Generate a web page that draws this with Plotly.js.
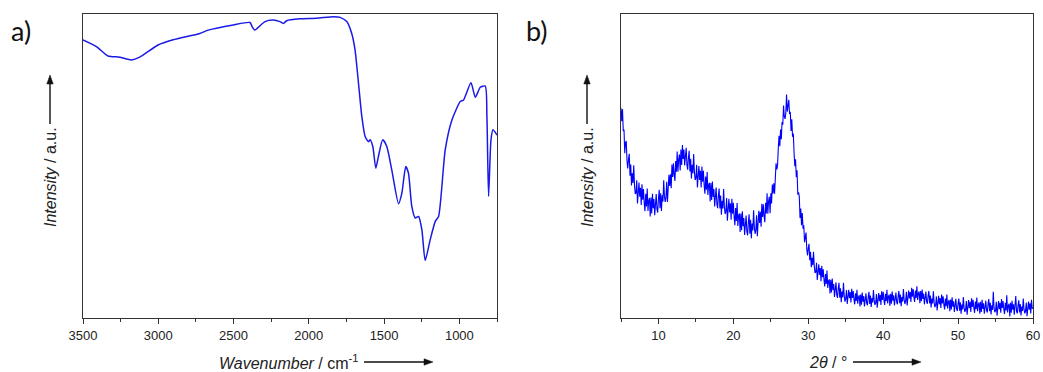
<!DOCTYPE html>
<html>
<head>
<meta charset="utf-8">
<script src="https://cdn.plot.ly/plotly-3.0.1.min.js"></script>
<style>html,body{margin:0;padding:0;background:#fff;}#chart{width:1043px;height:372px;}</style>
</head>
<body>
<div id="chart"></div>
<script>
// ---- FT-IR spectrum (panel a) ----
const irWavenumber = [3500,3411,3334,3256,3178,3123,3001,2901,2724,2668,2502,2391,2376,2358,2336,2291,2236,2192,2169,2147,2059,1948,1837,1792,1748,1715,1693,1670,1648,1626,1604,1593,1575,1555,1538,1509,1482,1449,1404,1382,1356,1338,1316,1293,1271,1249,1227,1194,1160,1138,1094,1049,994,972,923,894,861,828,817,806,790,777,750];
const irIntensity = [91.5,89.3,86.2,85.8,84.9,85.8,89.8,91.5,93.6,94.7,96.4,97.2,95.8,94.7,95.6,97.5,98.0,97.5,96.9,97.8,98.4,98.6,99.1,98.9,97.5,93.6,88.2,77.2,66.3,59.7,58.0,58.6,56.4,49.3,53.1,58.6,56.4,48.7,37.6,41.1,49.8,47.6,36.7,32.9,33.4,29.0,18.9,25.7,31.8,33.4,55.3,65.2,71.2,71.7,77.4,72.6,75.9,76.3,66.3,40.0,58.6,61.9,60.2];
const irTicks = [3500,3000,2500,2000,1500,1000];

// ---- PXRD pattern (panel b), 2theta from 5 to 60 in steps of 0.1 (one row per degree) ----
const xrdStart = 5;
const xrdStep = 0.1;
const xrdIntensity = [
69,64.7,68.7,61.5,62.0,54.2,57.6,58.2,51.7,49.2,
52.3,54.0,46.8,50.5,43.6,47.6,44.4,50.2,43.8,40.8,
41.1,45.3,37.7,43.2,44.6,39.9,42.8,37.2,44.0,38.9,
42.4,37.8,35.1,40.9,36.7,42.6,35.2,38.5,39.5,33.4,
39.6,34.4,40.9,36.1,39.1,33.8,38.7,40.8,35.7,34.7,
39.3,42.2,36.1,41.0,35.2,40.4,38.3,45.3,40.0,38.2,
39.6,44.8,38.2,44.7,47.1,43.4,47.3,42.7,50.5,46.4,
50.9,47.1,45.1,51.6,48.1,54.8,48.1,52.2,53.8,48.5,
55.4,50.3,56.9,52.3,55.4,50.2,54.5,56.0,50.4,48.8,
52.8,55.0,48.2,52.4,45.9,50.4,47.6,53.9,47.9,45.4,
46.1,50.4,42.9,48.5,50.0,45.4,48.4,42.9,49.8,44.8,
48.4,43.7,40.9,46.5,42.2,48.0,40.5,43.7,44.5,38.3,
44.4,38.8,44.9,39.8,42.4,36.7,41.2,42.9,37.5,36.1,
40.3,42.6,36.0,40.3,34.0,38.6,36.0,42.4,36.6,34.2,
35.1,39.5,32.0,37.7,39.2,34.7,37.7,32.3,39.2,34.3,
37.9,33.3,30.5,36.2,31.9,37.8,30.3,33.6,34.4,28.3,
34.4,28.9,35.1,30.2,32.9,27.3,31.9,33.7,28.5,27.2,
31.5,34.1,27.7,32.3,26.2,31.1,28.8,35.4,29.9,27.7,
28.9,33.8,26.9,33.2,35.3,31.3,34.9,30.0,37.6,33.2,
37.4,33.5,31.5,37.9,34.4,41.0,34.3,38.3,39.9,34.5,
41.0,37.7,43.9,41.0,44.3,40.9,47.0,50.9,48.9,50.2,
56.0,59.9,56.5,62.0,58.8,64.5,63.6,69.9,66.3,65.5,
67.4,73.5,67.9,71.5,71.8,67.1,67.8,61.5,65.4,59.6,
60.7,54.6,49.9,52.2,46.3,48.6,40.6,41.3,40.0,32.9,
36.0,30.5,34.5,29.4,30.5,24.9,27.6,28.1,22.7,20.6,
23.0,24.4,19.0,21.8,16.7,19.8,17.4,21.8,17.0,14.8,
15.1,18.2,12.5,16.7,17.7,14.2,16.4,12.1,17.2,13.4,
16.0,12.5,10.4,14.5,11.2,15.6,9.9,12.2,12.7,8.1,
12.6,8.4,13.0,9.2,11.2,6.9,10.3,11.7,7.6,6.6,
9.8,11.6,6.7,9.8,5.2,8.7,6.8,11.6,7.2,5.4,
6.4,9.2,4.6,8.3,9.3,6.5,8.5,5.1,9.6,6.6,
8.9,6.1,4.5,8.1,5.6,9.3,4.7,6.9,7.5,3.8,
7.7,4.4,8.4,5.4,7.2,3.8,6.8,8.1,4.9,4.2,
7.0,8.6,4.6,7.4,3.6,6.6,5.1,9.2,5.7,4.3,
5.0,7.9,3.4,7.1,8.2,5.5,7.6,4.3,8.8,5.9,
8.6,5.9,4.3,8.0,5.5,9.3,4.8,7.0,7.7,4.0,
8.0,4.7,8.7,5.7,7.5,4.1,7.1,8.4,5.2,4.5,
7.3,8.9,4.9,7.7,3.9,6.9,5.4,9.5,6.0,4.6,
5.6,8.6,4.1,7.9,9.0,6.4,8.5,5.3,9.9,7.0,
9.5,6.8,5.3,9.0,6.6,10.4,5.9,8.1,8.7,4.9,
8.9,5.5,9.4,6.3,8.0,4.5,7.4,8.7,5.4,4.7,
7.4,8.9,4.8,7.4,3.5,6.4,4.8,8.8,5.1,3.6,
4.2,7.1,2.5,6.2,7.3,4.5,6.6,3.3,7.7,4.8,
7.1,4.4,2.8,6.4,3.9,7.7,3.1,5.3,5.9,2.2,
6.1,2.8,6.8,3.7,5.5,2.0,5.0,6.3,3.0,2.3,
4.8,6.4,2.4,5.2,1.4,4.4,2.8,6.9,3.4,2.0,
2.7,5.6,1.1,4.8,5.9,3.2,5.3,2.0,6.5,3.6,
6.0,3.3,1.7,5.4,2.9,6.7,2.2,4.4,5.1,1.4,
5.3,2.0,6.0,3.0,4.8,1.4,4.4,5.7,2.5,1.8,
4.6,6.2,2.2,5.0,1.2,4.2,2.7,8.6,3.3,1.9,
2.4,5.3,0.8,4.5,5.6,2.9,5.0,1.7,6.2,3.3,
5.6,2.9,1.3,5.0,2.5,7.5,1.8,4.0,4.7,0.5,
5.0,1.7,5.7,2.7,4.5,1.1,4.1,7.2,2.2,1.5,
4.2,5.8,1.8,4.6,0.8,3.8,2.3,6.4,2.9,1.5,
2.2,5.1,0.6,4.3,5.4,2.7,4.8,1.5,6.0,3.1,
3.4];
const xrdTicks = [10,20,30,40,50,60];

const tickFont = {family: 'Liberation Sans, Arial, sans-serif', size: 13, color: '#222'};
const titleFont = {family: 'Liberation Sans, Arial, sans-serif', size: 16, color: '#222'};
const labelFont = {family: 'Lato, Open Sans, sans-serif', size: 27, color: '#111'};

const traces = [
  {x: irWavenumber, y: irIntensity, type: 'scatter', mode: 'lines',
   line: {color: '#1a1ae6', width: 1.5, shape: 'spline', smoothing: 0.6},
   xaxis: 'x', yaxis: 'y', hoverinfo: 'x+y'},
  {x0: xrdStart, dx: xrdStep, y: xrdIntensity, type: 'scatter', mode: 'lines',
   line: {color: '#0000ff', width: 1.1},
   xaxis: 'x2', yaxis: 'y2', hoverinfo: 'x+y'}
];

const W = 1043, H = 372;
const px = v => v / W;
const py = v => 1 - v / H;

const axisCommon = {
  showline: true, mirror: true, linecolor: '#333', linewidth: 1,
  showgrid: false, zeroline: false, fixedrange: true
};

// arrow helpers (paper-coordinate line + filled head)
function vArrow(x, yTip, yTail) {
  return [
    {type: 'line', xref: 'paper', yref: 'paper', x0: px(x), x1: px(x), y0: py(yTail), y1: py(yTip + 8), line: {color: '#111', width: 1.4}},
    {type: 'path', xref: 'paper', yref: 'paper', fillcolor: '#111', line: {color: '#111', width: 0.5},
     path: `M ${px(x)} ${py(yTip)} L ${px(x - 3.2)} ${py(yTip + 9)} L ${px(x + 3.2)} ${py(yTip + 9)} Z`}
  ];
}
function hArrow(y, xTail, xTip) {
  return [
    {type: 'line', xref: 'paper', yref: 'paper', x0: px(xTail), x1: px(xTip - 8), y0: py(y), y1: py(y), line: {color: '#111', width: 1.4}},
    {type: 'path', xref: 'paper', yref: 'paper', fillcolor: '#111', line: {color: '#111', width: 0.5},
     path: `M ${px(xTip)} ${py(y)} L ${px(xTip - 9)} ${py(y - 3.2)} L ${px(xTip - 9)} ${py(y + 3.2)} Z`}
  ];
}

const layout = {
  width: W, height: H,
  margin: {l: 0, r: 0, t: 0, b: 0},
  paper_bgcolor: '#fff', plot_bgcolor: '#fff',
  showlegend: false,
  xaxis: Object.assign({}, axisCommon, {
    domain: [px(83), px(497)], range: [3500, 750], anchor: 'y',
    tickvals: irTicks, ticks: 'outside', ticklen: 5, tickcolor: '#333',
    tickfont: tickFont,
    minor: {dtick: 250, tick0: 0, ticks: 'outside', ticklen: 3, tickcolor: '#333'}
  }),
  yaxis: Object.assign({}, axisCommon, {
    domain: [py(318), py(14)], range: [0, 100], anchor: 'x',
    showticklabels: false, ticks: ''
  }),
  xaxis2: Object.assign({}, axisCommon, {
    domain: [px(621), px(1033)], range: [5, 60], anchor: 'y2',
    tickvals: xrdTicks, ticks: 'outside', ticklen: 5, tickcolor: '#333',
    tickfont: tickFont,
    minor: {dtick: 5, tick0: 0, ticks: 'outside', ticklen: 3, tickcolor: '#333'}
  }),
  yaxis2: Object.assign({}, axisCommon, {
    domain: [py(318), py(14)], range: [0, 100], anchor: 'x2',
    showticklabels: false, ticks: ''
  }),
  shapes: [].concat(
    vArrow(50, 75, 124),
    vArrow(587, 75, 124),
    hArrow(362, 364, 433),
    hArrow(362, 853, 921)
  ),
  annotations: [
    {text: 'a)', xref: 'paper', yref: 'paper', x: px(9), y: py(30), xanchor: 'left', yanchor: 'middle', showarrow: false, font: labelFont},
    {text: 'b)', xref: 'paper', yref: 'paper', x: px(524), y: py(30), xanchor: 'left', yanchor: 'middle', showarrow: false, font: labelFont},
    {text: '<i>Intensity</i> / a.u.', xref: 'paper', yref: 'paper', x: px(50), y: py(177), textangle: -90, xanchor: 'center', yanchor: 'middle', showarrow: false, font: titleFont},
    {text: '<i>Intensity</i> / a.u.', xref: 'paper', yref: 'paper', x: px(587), y: py(177), textangle: -90, xanchor: 'center', yanchor: 'middle', showarrow: false, font: titleFont},
    {text: '<i>Wavenumber</i> / cm<sup>-1</sup>', xref: 'paper', yref: 'paper', x: px(360), y: py(362), xanchor: 'right', yanchor: 'middle', showarrow: false, font: titleFont},
    {text: '<i>2θ</i> / °', xref: 'paper', yref: 'paper', x: px(849), y: py(362), xanchor: 'right', yanchor: 'middle', showarrow: false, font: titleFont}
  ]
};

Plotly.newPlot('chart', traces, layout, {displayModeBar: false, staticPlot: true});
</script>
</body>
</html>
